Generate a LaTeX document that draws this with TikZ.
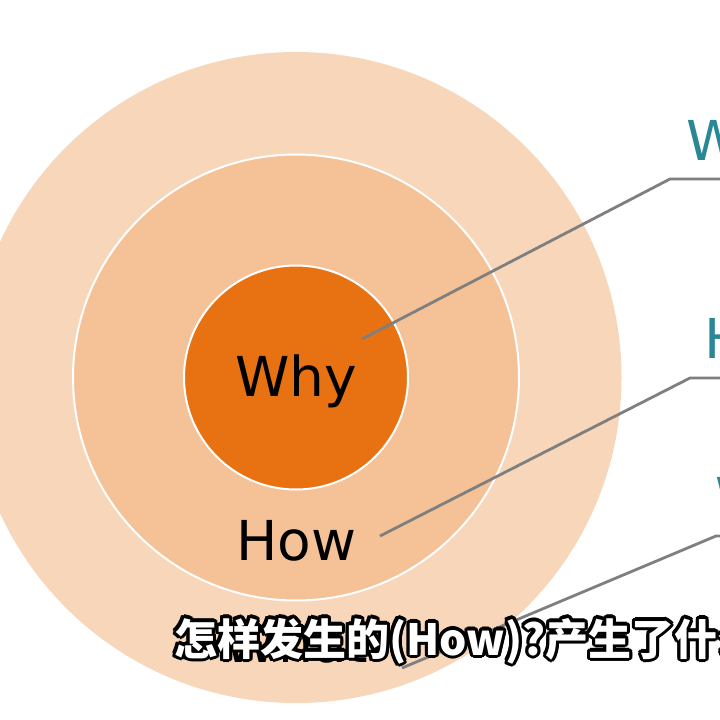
\documentclass[tikz,border=0pt]{standalone}
\usepackage{fontspec}
\setmainfont{DejaVu Sans}
\newfontfamily\cjk{Noto Sans CJK SC}
\definecolor{outerc}{HTML}{F8D6BA}
\definecolor{midc}{HTML}{F5C196}
\definecolor{innerc}{HTML}{E87112}
\definecolor{tealc}{HTML}{2A8796}
\definecolor{linec}{HTML}{7F7F7F}
\tikzset{
  ring/.style={circle, inner sep=0pt, outer sep=0pt},
  bigtext/.style={font=\fontsize{55}{60}\selectfont, inner sep=0pt, anchor=base},
  sidelabel/.style={font=\fontsize{55}{60}\selectfont, text=tealc, inner sep=0pt, anchor=base west},
  conn/.style={draw=linec, line width=2.8pt},
  subfont/.style={font=\cjk\bfseries\fontsize{43}{47}\selectfont, inner sep=0pt, anchor=base west}
}
\newcommand{\subtxt}{怎样发生的(How)?产生了什么(What)?}
\begin{document}
\begin{tikzpicture}[x=1pt,y=-1pt]
\useasboundingbox (0,0) rectangle (720,720);
\clip (0,0) rectangle (720,720);
\fill[white] (0,0) rectangle (720,720);
% rings
\node[ring, fill=outerc, minimum size=651pt] (outer) at (296,377.5) {};
\node[ring, fill=midc, draw=white, line width=2pt, minimum size=446pt] (mid) at (296,377.5) {};
\node[ring, fill=innerc, draw=white, line width=2pt, minimum size=224pt] (inner) at (296,377.5) {};
% ring labels
\node[bigtext] (why) at (296,396) {Why};
\node[bigtext] (how) at (296,560) {How};
\node[bigtext] (what) at (296,662) {What};
% connectors
\coordinate (p1) at (362,339);
\coordinate (k1) at (670,179);
\coordinate (e1) at (730,179);
\coordinate (p2) at (380,536);
\coordinate (k2) at (690,378);
\coordinate (e2) at (730,378);
\coordinate (p3) at (402,668);
\coordinate (k3) at (716,536);
\coordinate (e3) at (730,536);
\draw[conn] (p1) -- (k1) -- (e1);
\draw[conn] (p2) -- (k2) -- (e2);
\draw[conn] (p3) -- (k3) -- (e3);
% side labels
\node[sidelabel] (l1) at (686,160) {Why};
\node[sidelabel] (l2) at (704,358) {How};
\node[sidelabel] (l3) at (715,517) {What};
% subtitle with outline
\foreach \a in {0,22.5,...,337.5}{
  \node[subfont, text=black, shift={(\a:3.2)}] at (174,655) {\subtxt};
}
\node[subfont, text=white] (sub) at (174,655) {\subtxt};
\end{tikzpicture}
\end{document}
